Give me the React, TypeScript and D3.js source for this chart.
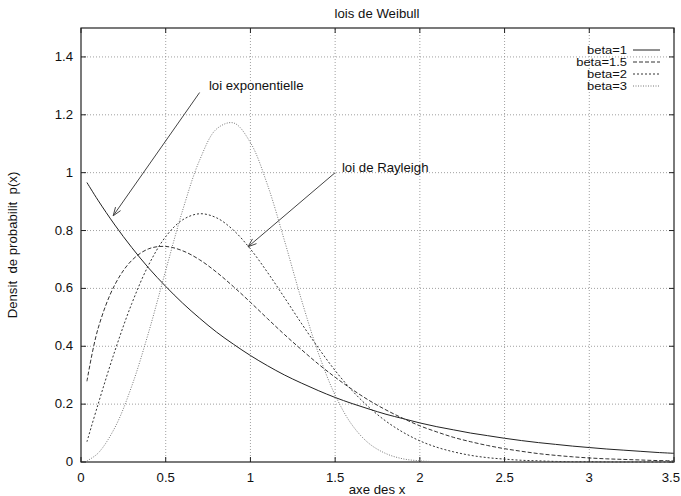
import React from 'react';
import * as d3 from 'd3';

// sample abscissae
const xs = [0.035, 0.1, 0.2, 0.3, 0.4, 0.5, 0.6, 0.7, 0.8, 0.9, 1.0, 1.1, 1.2, 1.3, 1.4, 1.5, 1.6, 1.7, 1.8,
  1.9, 2.0, 2.1, 2.2, 2.3, 2.4, 2.5, 2.6, 2.7, 2.8, 2.9, 3.0, 3.1, 3.2, 3.3, 3.4, 3.5];

const beta1 = [0.966, 0.905, 0.819, 0.741, 0.670, 0.607, 0.549, 0.497, 0.449, 0.407, 0.368, 0.333, 0.301, 0.273,
  0.247, 0.223, 0.202, 0.183, 0.165, 0.150, 0.135, 0.122, 0.111, 0.100, 0.091, 0.082, 0.074, 0.067, 0.061, 0.055,
  0.050, 0.045, 0.041, 0.037, 0.033, 0.030];
const beta15 = [0.279, 0.460, 0.613, 0.697, 0.737, 0.745, 0.730, 0.699, 0.656, 0.606, 0.552, 0.496, 0.441, 0.389,
  0.339, 0.293, 0.251, 0.213, 0.180, 0.151, 0.125, 0.104, 0.085, 0.070, 0.057, 0.046, 0.037, 0.029, 0.023, 0.018,
  0.014, 0.011, 0.009, 0.007, 0.005, 0.004];
const beta2 = [0.070, 0.198, 0.384, 0.548, 0.682, 0.779, 0.837, 0.858, 0.844, 0.801, 0.736, 0.656, 0.569, 0.480,
  0.395, 0.316, 0.247, 0.189, 0.141, 0.103, 0.073, 0.051, 0.035, 0.023, 0.015, 0.010, 0.006, 0.004, 0.002, 0.001,
  0.001, 0.0004, 0.0002, 0.0001, 0.0001, 0];
const beta3 = [0.004, 0.030, 0.119, 0.263, 0.450, 0.662, 0.870, 1.043, 1.151, 1.172, 1.104, 0.959, 0.767, 0.563,
  0.378, 0.231, 0.128, 0.064, 0.029, 0.011, 0.004, 0.001, 0.0003, 0, 0, 0, 0, 0, 0, 0, 0, 0, 0, 0, 0, 0];

const xTicks = [0, 0.5, 1, 1.5, 2, 2.5, 3, 3.5];
const yTicks = [0, 0.2, 0.4, 0.6, 0.8, 1, 1.2, 1.4];

const seriesLabels = ['beta=1', 'beta=1.5', 'beta=2', 'beta=3'];
const seriesValues = [beta1, beta15, beta2, beta3];
const seriesDash = ['none', '4,2', '2,2', '1,1.5'];
const seriesColor = ['#222', '#333', '#333', '#777'];

const W = 681;
const H = 496;
const margin = { top: 28, right: 7, bottom: 34, left: 81 };
const font = 'Liberation Sans, Arial, Helvetica, sans-serif';

// gnuplot's postscript text comes out a bit wide, so stretch horizontally
const T = ({ x, y, anchor = 'start', rotate = 0, size = 12, children }) => (
  <text transform={`translate(${x},${y}) rotate(${rotate}) scale(1.1,1)`} textAnchor={anchor}
    fontSize={size} fill="#111" style={{ whiteSpace: 'pre' }}>{children}</text>
);

const Arrow = ({ x1, y1, x2, y2 }) => {
  const ang = Math.atan2(y2 - y1, x2 - x1);
  const len = 9;
  const spread = 0.35;
  const a1 = [x2 - len * Math.cos(ang - spread), y2 - len * Math.sin(ang - spread)];
  const a2 = [x2 - len * Math.cos(ang + spread), y2 - len * Math.sin(ang + spread)];
  return (
    <g stroke="#444" strokeWidth={1} fill="none">
      <line x1={x1} y1={y1} x2={x2} y2={y2} />
      <polyline points={`${a1[0]},${a1[1]} ${x2},${y2} ${a2[0]},${a2[1]}`} />
    </g>
  );
};

export default function App() {
  const innerW = W - margin.left - margin.right;
  const innerH = H - margin.top - margin.bottom;
  const x = d3.scaleLinear().domain([0, 3.5]).range([margin.left, margin.left + innerW]);
  const y = d3.scaleLinear().domain([0, 1.5]).range([margin.top + innerH, margin.top]);

  const line = d3.line<number>()
    .x((_, i) => x(xs[i]))
    .y(d => y(d))
    .curve(d3.curveCatmullRom);

  const x0 = x(0), x1 = x(3.5), y0 = y(0), y1 = y(1.5);
  const last = xTicks[xTicks.length - 1];

  return (
    <svg width={W} height={H} style={{ position: 'absolute', left: 0, top: 0 }} fontFamily={font}>
      <rect width={W} height={H} fill="#fff" />

      {/* grid */}
      <g stroke="#888" strokeWidth={0.8} strokeDasharray="1,2">
        {xTicks.slice(1, -1).map(t => (
          <line key={'gx' + t} x1={x(t)} x2={x(t)} y1={y0} y2={y1} />
        ))}
        {yTicks.slice(1).map(t => (
          <line key={'gy' + t} x1={x0} x2={x1} y1={y(t)} y2={y(t)} />
        ))}
      </g>

      {/* ticks, mirrored */}
      <g stroke="#222" strokeWidth={1}>
        {xTicks.map(t => (
          <g key={'tx' + t}>
            <line x1={x(t)} x2={x(t)} y1={y0} y2={y0 - 5} />
            <line x1={x(t)} x2={x(t)} y1={y1} y2={y1 + 5} />
          </g>
        ))}
        {yTicks.map(t => (
          <g key={'ty' + t}>
            <line x1={x0} x2={x0 + 5} y1={y(t)} y2={y(t)} />
            <line x1={x1} x2={x1 - 5} y1={y(t)} y2={y(t)} />
          </g>
        ))}
      </g>

      <rect x={x0} y={y1} width={x1 - x0} height={y0 - y1} fill="none" stroke="#222" strokeWidth={1.2} />

      {/* tick labels; the last one is pulled in so it stays on the page */}
      {xTicks.map(t => (
        t === last
          ? <T key={'lx' + t} x={W - 1} y={y0 + 20} anchor="end">{String(t)}</T>
          : <T key={'lx' + t} x={x(t)} y={y0 + 20} anchor="middle">{String(t)}</T>
      ))}
      {yTicks.map(t => (
        <T key={'ly' + t} x={x0 - 8} y={y(t) + 4} anchor="end">{String(t)}</T>
      ))}

      {/* curves */}
      <g fill="none">
        {seriesValues.map((vals, i) => (
          <path key={'s' + i} d={line(vals)} stroke={seriesColor[i]} strokeWidth={1}
            strokeDasharray={seriesDash[i]} />
        ))}
      </g>

      {/* legend */}
      {seriesLabels.map((lab, i) => (
        <g key={'lg' + i}>
          <text transform={`translate(627,${54 + i * 12}) scale(1.18,1)`} textAnchor="end" fontSize={11}
            fill="#111">{lab}</text>
          <line x1={633} x2={660} y1={50 + i * 12} y2={50 + i * 12} stroke={seriesColor[i]}
            strokeWidth={1} strokeDasharray={seriesDash[i]} />
        </g>
      ))}

      {/* annotations */}
      <T x={x(0.755)} y={y(1.285)}>loi exponentielle</T>
      <T x={x(1.54)} y={y(1.002)}>loi de Rayleigh</T>
      <Arrow x1={x(0.70)} y1={y(1.277)} x2={x(0.19)} y2={y(0.851)} />
      <Arrow x1={x(1.50)} y1={y(1.0)} x2={x(0.986)} y2={y(0.744)} />

      {/* titles */}
      <T x={377} y={18} anchor="middle">lois de Weibull</T>
      <T x={377} y={494} anchor="middle">axe des x</T>
      <T x={17} y={245} anchor="middle" rotate={-90}>{'Densit  de probabilit  p(x)'}</T>
    </svg>
  );
}
